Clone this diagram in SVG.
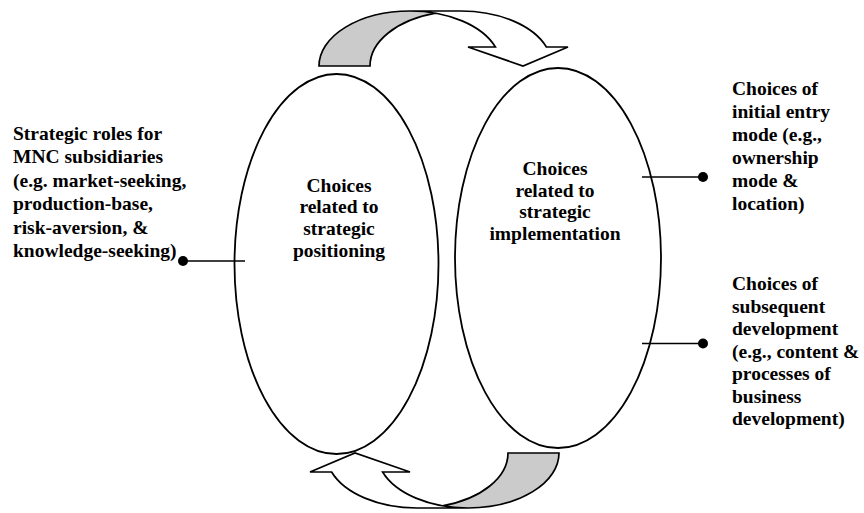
<svg xmlns="http://www.w3.org/2000/svg" width="864" height="513" viewBox="0 0 864 513">
<style>
text{font-family:"Liberation Serif","Times New Roman",serif;font-weight:bold;font-size:19.5px;fill:#000}
.c{text-anchor:middle}
.ell{fill:none;stroke:#000;stroke-width:1.8}
.ln{stroke:#000;stroke-width:1.6;fill:none}
.dot{fill:#000}
.wh{fill:#fff;stroke:none}
.gr{fill:#cbcbcb;stroke:none}
.ol{fill:none;stroke:#000;stroke-width:1.7;stroke-linejoin:miter}
</style>
<defs>
<g id="carrow">
<path class="wh" d="M523 66 L468 47 L495.4 47 A91 55 0 0 0 410 11 L461 11 A91 55 0 0 1 546.4 47 L568 47 Z"/>
<path class="gr" d="M435.5 13.2 A91 55 0 0 0 370 66 L319 66 A91 55 0 0 1 435.5 13.2 Z"/>
<path class="ol" d="M435.5 13.2 A91 55 0 0 0 370 66 L319 66 A91 55 0 0 1 410 11 L461 11 A91 55 0 0 1 546.4 47 L568 47 L523 66 L468 47 L495.4 47 A91 55 0 0 0 410 11"/>
</g>
</defs>
<g id="connectors">
<use href="#carrow"/>
<use href="#carrow" transform="rotate(180 439 259.5)"/>
<line class="ln" x1="183" y1="261" x2="245" y2="261"/>
<circle class="dot" cx="183" cy="261" r="5"/>
<line class="ln" x1="642" y1="177" x2="703" y2="177"/>
<circle class="dot" cx="703" cy="177" r="5"/>
<line class="ln" x1="642" y1="343.5" x2="703" y2="343.5"/>
<circle class="dot" cx="703" cy="343.5" r="5"/>
</g>
<g id="positioning">
<ellipse class="ell" cx="336.5" cy="264" rx="102" ry="190"/>
<text class="c" x="339" y="191.5">Choices</text>
<text class="c" x="339" y="213.3">related to</text>
<text class="c" x="339" y="235">strategic</text>
<text class="c" x="339" y="256.7">positioning</text>
</g>
<g id="implementation">
<ellipse class="ell" cx="558" cy="258" rx="103" ry="190"/>
<text class="c" x="555" y="175">Choices</text>
<text class="c" x="555" y="196.7">related to</text>
<text class="c" x="555" y="218.4">strategic</text>
<text class="c" x="555" y="240">implementation</text>
</g>
<g id="roles">
<text x="13" y="140">Strategic roles for</text>
<text x="13" y="163.4">MNC subsidiaries</text>
<text x="13" y="186.8">(e.g. market-seeking,</text>
<text x="13" y="210.2">production-base,</text>
<text x="13" y="233.6">risk-aversion, &amp;</text>
<text x="13" y="257">knowledge-seeking)</text>
</g>
<g id="entry">
<text x="732" y="95">Choices of</text>
<text x="732" y="118">initial entry</text>
<text x="732" y="141">mode (e.g.,</text>
<text x="732" y="164">ownership</text>
<text x="732" y="187">mode &amp;</text>
<text x="732" y="210">location)</text>
</g>
<g id="development">
<text x="732" y="290">Choices of</text>
<text x="732" y="312.5">subsequent</text>
<text x="732" y="335">development</text>
<text x="732" y="357.5">(e.g., content &amp;</text>
<text x="732" y="380">processes of</text>
<text x="732" y="402.5">business</text>
<text x="732" y="425">development)</text>
</g>
</svg>
